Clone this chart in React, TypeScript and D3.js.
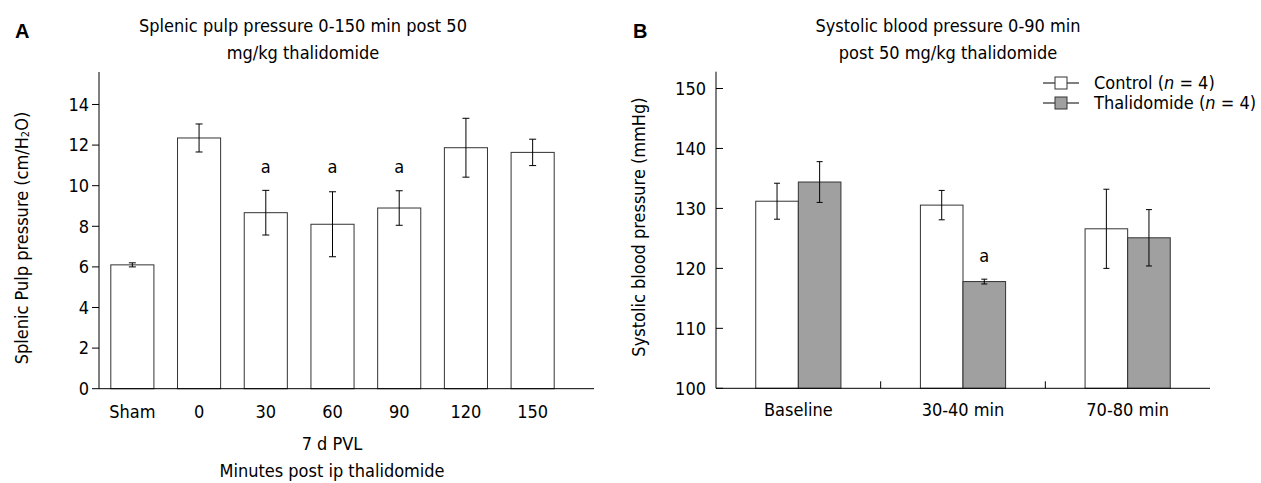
import React from "react";
import * as d3 from "d3";

// panel A: splenic pulp pressure
const pvlCats = ["Sham", "0", "30", "60", "90", "120", "150"];
const pvlMeans = [6.1, 12.35, 8.67, 8.1, 8.9, 11.87, 11.64];
const pvlErr = [0.1, 0.69, 1.1, 1.6, 0.85, 1.45, 0.65];
const pvlSig = [false, false, true, true, true, false, false];
const pvlTicks = [0, 2, 4, 6, 8, 10, 12, 14];

// panel B: systolic blood pressure
const bpCats = ["Baseline", "30-40 min", "70-80 min"];
const controlMeans = [131.2, 130.55, 126.6];
const controlErr = [3.0, 2.45, 6.6];
const thalMeans = [134.4, 117.8, 125.1];
const thalErr = [3.4, 0.4, 4.7];
const thalSig = [false, true, false];
const bpTicks = [100, 110, 120, 130, 140, 150];
const seriesNames = ["Control", "Thalidomide"];

const FONT = "'DejaVu Sans', Verdana, sans-serif";
const FS = 18;

function ErrBar({ x, y0, y1, cap = 3.5 }: { x: number; y0: number; y1: number; cap?: number }) {
  return (
    <g stroke="#000" strokeWidth={1}>
      <line x1={x} x2={x} y1={y0} y2={y1} />
      <line x1={x - cap} x2={x + cap} y1={y0} y2={y0} />
      <line x1={x - cap} x2={x + cap} y1={y1} y2={y1} />
    </g>
  );
}

function PanelA() {
  const x = d3.scaleBand<string>().domain(pvlCats).range([99, 566]).paddingInner(0.354).paddingOuter(0.177);
  const y = d3.scaleLinear().domain([0, 15.6]).range([388.7, 72]);
  const bw = x.bandwidth();
  return (
    <g fontFamily={FONT} fontSize={FS} fill="#000" style={{ fontStretch: "condensed" }}>
      <text x={15} y={38} fontFamily="'Liberation Sans', Arial, sans-serif" fontWeight="bold" fontSize={20}>A</text>
      <text x={303} y={31.5} textAnchor="middle">Splenic pulp pressure 0-150 min post 50</text>
      <text x={303} y={58.5} textAnchor="middle">mg/kg thalidomide</text>
      {pvlCats.map((c, i) => {
        const cx = (x(c) as number) + bw / 2;
        return (
          <g key={c}>
            <rect x={x(c)} y={y(pvlMeans[i])} width={bw} height={y(0) - y(pvlMeans[i])} fill="#fff" stroke="#333" />
            <ErrBar x={cx} y0={y(pvlMeans[i] + pvlErr[i])} y1={y(pvlMeans[i] - pvlErr[i])} />
            {pvlSig[i] && (
              <text x={cx} y={173} textAnchor="middle">a</text>
            )}
            <text x={cx} y={418} textAnchor="middle">{c}</text>
          </g>
        );
      })}
      <line x1={99} x2={99} y1={72} y2={y(0)} stroke="#000" />
      <line x1={99} x2={594} y1={y(0)} y2={y(0)} stroke="#000" />
      {pvlTicks.map((t) => (
        <g key={t}>
          <line x1={92} x2={99} y1={y(t)} y2={y(t)} stroke="#000" />
          <text x={89} y={y(t)} dy="0.35em" textAnchor="end">{t}</text>
        </g>
      ))}
      <text x={332} y={450} textAnchor="middle">7 d PVL</text>
      <text x={332} y={477} textAnchor="middle">Minutes post ip thalidomide</text>
      <text transform="translate(28,238) rotate(-90)" textAnchor="middle">
        Splenic Pulp pressure (cm/H<tspan fontSize={11} dy={1}>2</tspan><tspan dy={-1}>O)</tspan>
      </text>
    </g>
  );
}

function PanelB() {
  const x = d3.scaleBand<string>().domain(bpCats).range([716, 1210]);
  const sub = d3.scaleBand<string>().domain(seriesNames).range([0, x.bandwidth()]).paddingOuter(0.933);
  const y = d3.scaleLinear().domain([100, 152.8]).range([388.3, 71.7]);
  const bw = sub.bandwidth();
  const series = [
    { name: "Control", means: controlMeans, err: controlErr, fill: "#fff" },
    { name: "Thalidomide", means: thalMeans, err: thalErr, fill: "#a0a0a0" },
  ];
  return (
    <g fontFamily={FONT} fontSize={FS} fill="#000" style={{ fontStretch: "condensed" }}>
      <text x={633} y={38} fontFamily="'Liberation Sans', Arial, sans-serif" fontWeight="bold" fontSize={20}>B</text>
      <text x={948} y={31.5} textAnchor="middle">Systolic blood pressure 0-90 min</text>
      <text x={948} y={58.5} textAnchor="middle">post 50 mg/kg thalidomide</text>
      {bpCats.map((c, i) => (
        <g key={c}>
          {series.map((s) => {
            const bx = (x(c) as number) + (sub(s.name) as number);
            return (
              <g key={s.name}>
                <rect x={bx} y={y(s.means[i])} width={bw} height={y(100) - y(s.means[i])} fill={s.fill} stroke="#333" />
                <ErrBar x={bx + bw / 2} y0={y(s.means[i] + s.err[i])} y1={y(s.means[i] - s.err[i])} cap={3} />
              </g>
            );
          })}
          {thalSig[i] && (
            <text x={(x(c) as number) + (sub("Thalidomide") as number) + bw / 2} y={262} textAnchor="middle">a</text>
          )}
          <text x={(x(c) as number) + x.bandwidth() / 2} y={416} textAnchor="middle">{c}</text>
        </g>
      ))}
      {bpCats.slice(1).map((c) => (
        <line key={c} x1={x(c)} x2={x(c)} y1={y(100)} y2={y(100) - 7} stroke="#000" />
      ))}
      <line x1={716} x2={716} y1={71.7} y2={y(100)} stroke="#000" />
      <line x1={716} x2={1210} y1={y(100)} y2={y(100)} stroke="#000" />
      {bpTicks.map((t) => (
        <g key={t}>
          <line x1={716} x2={723} y1={y(t)} y2={y(t)} stroke="#000" />
          <text x={706} y={y(t)} dy="0.35em" textAnchor="end">{t}</text>
        </g>
      ))}
      <text transform="translate(645,227) rotate(-90)" textAnchor="middle">Systolic blood pressure (mmHg)</text>
      {series.map((s, i) => (
        <g key={s.name} transform={`translate(0,${83 + i * 20})`}>
          <line x1={1043} x2={1079} y1={0} y2={0} stroke="#000" />
          <rect x={1055} y={-6} width={12} height={12} fill={s.fill} stroke="#333" />
          <text x={1094} y={0} dy="0.35em">
            {s.name} (<tspan fontStyle="italic">n</tspan> = 4)
          </text>
        </g>
      ))}
    </g>
  );
}

export default function App() {
  return (
    <div>
      <style>{`body{margin:0}`}</style>
      <svg width={1261} height={483} style={{ display: "block", background: "#fff" }}>
        <PanelA />
        <PanelB />
      </svg>
    </div>
  );
}
